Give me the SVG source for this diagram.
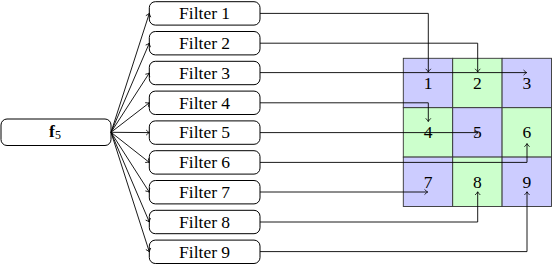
<svg xmlns="http://www.w3.org/2000/svg" width="554" height="264" viewBox="0 0 554 264">
<defs>
<marker id="ah" markerUnits="userSpaceOnUse" markerWidth="8" markerHeight="8" viewBox="-5 -4 6 8" refX="0" refY="0" orient="auto">
<path d="M-3.2,-2.6 Q-1.2,-0.6 0,0 Q-1.2,0.6 -3.2,2.6" fill="none" stroke="#000" stroke-width="0.8"/>
</marker>
<style>
.box{fill:#fff;stroke:#000;stroke-width:1}
.t{font-family:"Liberation Serif","Times New Roman",serif;font-size:17.5px;fill:#000;text-anchor:middle}
.c{stroke:#000;stroke-width:0.9;fill:none;marker-end:url(#ah)}
.cell{stroke:#333;stroke-width:0.9}
.b{fill:#ccccff}
.g{fill:#ccffcc}
</style>
</defs>
<g id="f5">
<rect class="box" x="1" y="119" width="110" height="26.5" rx="6"/>
<text class="t" x="55" y="136.7"><tspan font-weight="bold">f</tspan><tspan font-size="12" dy="2.6">5</tspan></text>
</g>
<g id="filter1"><rect class="box" x="149.3" y="1.7" width="110.7" height="23.4" rx="6"/><text class="t" x="204.6" y="19.2">Filter 1</text></g>
<g id="filter2"><rect class="box" x="149.3" y="31.5" width="110.7" height="23.4" rx="6"/><text class="t" x="204.6" y="49">Filter 2</text></g>
<g id="filter3"><rect class="box" x="149.3" y="61.3" width="110.7" height="23.4" rx="6"/><text class="t" x="204.6" y="78.8">Filter 3</text></g>
<g id="filter4"><rect class="box" x="149.3" y="91.1" width="110.7" height="23.4" rx="6"/><text class="t" x="204.6" y="108.6">Filter 4</text></g>
<g id="filter5"><rect class="box" x="149.3" y="120.9" width="110.7" height="23.4" rx="6"/><text class="t" x="204.6" y="138.4">Filter 5</text></g>
<g id="filter6"><rect class="box" x="149.3" y="150.7" width="110.7" height="23.4" rx="6"/><text class="t" x="204.6" y="168.2">Filter 6</text></g>
<g id="filter7"><rect class="box" x="149.3" y="180.5" width="110.7" height="23.4" rx="6"/><text class="t" x="204.6" y="198">Filter 7</text></g>
<g id="filter8"><rect class="box" x="149.3" y="210.3" width="110.7" height="23.4" rx="6"/><text class="t" x="204.6" y="227.8">Filter 8</text></g>
<g id="filter9"><rect class="box" x="149.3" y="240.1" width="110.7" height="23.4" rx="6"/><text class="t" x="204.6" y="257.6">Filter 9</text></g>
<g id="grid">
<g id="cell1"><rect class="cell b" x="403.3" y="58.3" width="49.4" height="49.4"/><text class="t" x="428" y="89.2">1</text></g>
<g id="cell2"><rect class="cell g" x="452.7" y="58.3" width="49.4" height="49.4"/><text class="t" x="477.4" y="89.2">2</text></g>
<g id="cell3"><rect class="cell b" x="502.1" y="58.3" width="49.4" height="49.4"/><text class="t" x="526.8" y="89.2">3</text></g>
<g id="cell4"><rect class="cell g" x="403.3" y="107.7" width="49.4" height="49.4"/><text class="t" x="428" y="138.4">4</text></g>
<g id="cell5"><rect class="cell b" x="452.7" y="107.7" width="49.4" height="49.4"/><text class="t" x="477.4" y="138.4">5</text></g>
<g id="cell6"><rect class="cell g" x="502.1" y="107.7" width="49.4" height="49.4"/><text class="t" x="526.8" y="138.4">6</text></g>
<g id="cell7"><rect class="cell b" x="403.3" y="157.1" width="49.4" height="49.4"/><text class="t" x="428" y="187.7">7</text></g>
<g id="cell8"><rect class="cell g" x="452.7" y="157.1" width="49.4" height="49.4"/><text class="t" x="477.4" y="187.7">8</text></g>
<g id="cell9"><rect class="cell b" x="502.1" y="157.1" width="49.4" height="49.4"/><text class="t" x="526.8" y="187.7">9</text></g>
</g>
<g id="connectors">
<path class="c" d="M111,132.3 L149.3,13.4"/>
<path class="c" d="M111,132.3 L149.3,43.2"/>
<path class="c" d="M111,132.3 L149.3,73"/>
<path class="c" d="M111,132.3 L149.3,102.8"/>
<path class="c" d="M111,132.3 L149.3,132.6"/>
<path class="c" d="M111,132.3 L149.3,162.4"/>
<path class="c" d="M111,132.3 L149.3,192.2"/>
<path class="c" d="M111,132.3 L149.3,222"/>
<path class="c" d="M111,132.3 L149.3,251.8"/>
<path class="c" d="M260,13.4 H428.3 V72"/>
<path class="c" d="M260,43.2 H477.7 V72"/>
<path class="c" d="M260,72.6 H526.7"/>
<path class="c" d="M260,102.8 H428.3 V121.5"/>
<path class="c" d="M260,132.6 H478.3"/>
<path class="c" d="M260,162.4 H527 V143.6"/>
<path class="c" d="M260,192 H427.7"/>
<path class="c" d="M260,222 H477.7 V191.8"/>
<path class="c" d="M260,251.6 H527 V191.8"/>
</g>
</svg>
